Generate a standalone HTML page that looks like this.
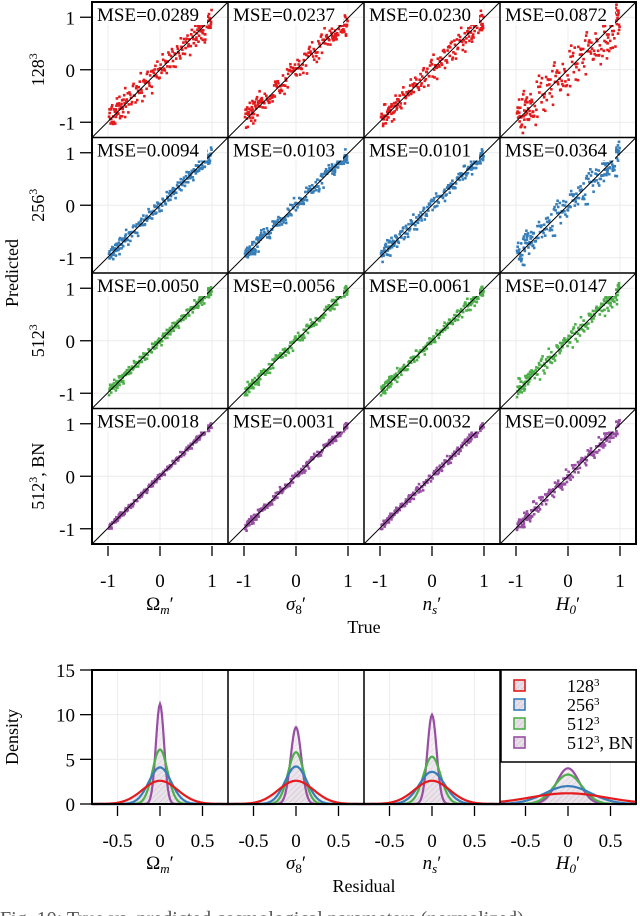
<!DOCTYPE html>
<html><head><meta charset="utf-8">
<style>
html,body{margin:0;padding:0;background:#fff;}
svg{display:block;font-family:"Liberation Serif",serif;}
</style></head>
<body>
<svg id="fig" width="640" height="916" viewBox="0 0 640 916" xmlns="http://www.w3.org/2000/svg"></svg>
<script>
// ---- data ----
const rowLabels = ["128", "256", "512", "512"];
const rowSuffix = ["", "", "", ", BN"];
const colLabels = ["Ω", "σ", "n", "H"];
const colSubs = ["m", "8", "s", "0"];
const mseRow0 = [0.0289, 0.0237, 0.0230, 0.0872];
const mseRow1 = [0.0094, 0.0103, 0.0101, 0.0364];
const mseRow2 = [0.0050, 0.0056, 0.0061, 0.0147];
const mseRow3 = [0.0018, 0.0031, 0.0032, 0.0092];
const trueVals = [-0.98,-0.95,-0.93,-0.9,-0.88,-0.86,-0.84,-0.82,-0.8,-0.78,-0.76,-0.74,-0.72,-0.7,-0.67,-0.65,-0.62,-0.6,-0.57,-0.55,-0.52,-0.5,-0.47,-0.45,-0.42,-0.4,-0.37,-0.35,-0.32,-0.3,-0.27,-0.25,-0.22,-0.2,-0.17,-0.15,-0.12,-0.1,-0.07,-0.05,-0.02,0.0,0.03,0.05,0.08,0.1,0.13,0.15,0.18,0.2,0.23,0.25,0.28,0.3,0.33,0.35,0.38,0.4,0.43,0.45,0.48,0.5,0.53,0.55,0.58,0.6,0.63,0.65,0.68,0.7,0.72,0.74,0.76,0.78,0.8,0.82,0.84,0.86,0.88,0.9,0.92,0.94,0.96,0.98,-0.97,-0.91,-0.85,-0.79,-0.73,-0.68,0.69,0.75,0.81,0.87,0.93,0.97,-0.94,-0.83,0.85,0.95];
const noiseVals = [0.3,-0.8,1.2,-0.2,0.6,-1.4,0.1,0.9,-0.5,1.6,-1.1,0.4,-0.3,0.7,-1.8,0.2,1.0,-0.6,0.5,-0.9,1.3,-0.1,-1.2,0.8,0.0,-0.4,2.0,-0.7,0.6,-1.5,0.3,1.1,-0.2,-0.8,0.9,-2.1,0.4,0.7,-0.3,1.4,-1.0,0.2,-0.6,1.7,-0.4,0.5,-1.3,0.1,0.8,-0.9,1.2,-0.5,0.3,-1.6,0.9,0.0,-0.7,1.5,-0.2,0.6,-1.1,0.4,1.0,-0.3,-1.9,0.7,0.2,-0.8,1.3,-0.4,0.5,-1.2,0.8,-0.1,1.1,-0.6,0.3,-1.0,0.6,-0.3,0.9,-0.7,0.2,-0.5,1.2,-0.9,0.4,0.8,-1.3,0.1,-0.6,0.5,-0.2,-1.1,0.3,-0.8,1.0,-0.4,0.7,-0.5];
const peaksCol0 = [2.6, 4.1, 6.1, 11.2];
const peaksCol1 = [2.6, 4.2, 5.8, 8.6];
const peaksCol2 = [2.6, 3.6, 5.3, 10.0];
const peaksCol3 = [1.2, 2.0, 3.3, 4.0];
const densTicks = [0, 5, 10, 15];
const resTicks = [-0.5, 0, 0.5];
const predTicks = [-1, 0, 1];
const colors = ["#e41a1c", "#377eb8", "#4daf4a", "#984ea3"];

const NS = "http://www.w3.org/2000/svg";
const svg = document.getElementById("fig");
function el(tag, attrs, parent, text) {
  const e = document.createElementNS(NS, tag);
  for (const k in attrs) e.setAttribute(k, attrs[k]);
  if (text !== undefined) e.textContent = text;
  (parent || svg).appendChild(e);
  return e;
}
const defs = el("defs", {});
const pat = el("pattern", {id: "hatch", width: 4, height: 4, patternUnits: "userSpaceOnUse", patternTransform: "rotate(45)"}, defs);
el("rect", {width: 4, height: 4, fill: "#e8e0e8"}, pat);
el("line", {x1: 0, y1: 0, x2: 0, y2: 4, stroke: "#c8b8c8", "stroke-width": 1}, pat);

const colX = [92, 228, 364, 500];
const PW = 136;
const rowY = [2, 137.5, 273, 408.5];
const PH = 135.5;
const mseRows = [mseRow0, mseRow1, mseRow2, mseRow3];

function xs(c, v) { return colX[c] + PW / 2 + v * 52; }
function ys(r, v) { return rowY[r] + PH / 2 - v * 52.5; }

for (let r = 0; r < 4; r++) {
  for (let c = 0; c < 4; c++) {
    const g = el("g", {});
    
    
    const x0 = colX[c], y0 = rowY[r];
    predTicks.forEach(t => {
      el("line", {x1: xs(c, t), x2: xs(c, t), y1: y0, y2: y0 + PH, stroke: "#ececec", "stroke-width": 1}, g);
      el("line", {x1: x0, x2: x0 + PW, y1: ys(r, t), y2: ys(r, t), stroke: "#ececec", "stroke-width": 1}, g);
    });
    const sd = Math.sqrt(mseRows[r][c]) * 0.85;
    const pts = el("g", {fill: colors[r]}, g);
    
    
    for (let rep = 0; rep < 2; rep++) {
      for (let i = 0; i < trueVals.length; i++) {
        const tv = Math.max(-1, Math.min(1, trueVals[i] + (rep ? 0.012 : 0)));
        const n = noiseVals[(i * (c + 1) + rep * 37 + r * 11) % noiseVals.length];
        let pv = tv * (1 - sd * 0.3) + n * sd;
        pv = Math.max(-1.28, Math.min(1.28, pv));
        el("rect", {x: xs(c, tv) - 1.3, y: ys(r, pv) - 1.3, width: 2.6, height: 2.6}, pts);
      }
    }
    el("line", {x1: x0, y1: y0 + PH, x2: x0 + PW, y2: y0, stroke: "#000", "stroke-width": 1}, g);
    el("rect", {x: x0 + 3, y: y0 + 2, width: 112, height: 21, fill: "#fff"}, g);
    const mt = el("text", {x: x0 + 5, y: y0 + 19, "font-size": 19}, g, "MSE=" + mseRows[r][c].toFixed(4));
    
    
    el("rect", {x: x0, y: y0, width: PW, height: PH, fill: "none", stroke: "#000", "stroke-width": 1.3}, g);
  }
  predTicks.forEach(t => {
    el("line", {x1: 80, x2: 92, y1: ys(r, t), y2: ys(r, t), stroke: "#000", "stroke-width": 1.3});
    el("text", {x: 75, y: ys(r, t) + 7, "font-size": 19, "text-anchor": "end"}, svg, String(t));
  });
  const rl = el("text", {transform: `translate(44,${rowY[r] + PH / 2}) rotate(-90)`, "font-size": 18, "text-anchor": "middle"});
  
  
  el("tspan", {}, rl, rowLabels[r]);
  el("tspan", {dy: -7, "font-size": 12}, rl, "3");
  if (rowSuffix[r]) el("tspan", {dy: 7}, rl, rowSuffix[r]);
}
el("rect", {x: 92, y: 2, width: 544, height: 542, fill: "none", stroke: "#000", "stroke-width": 2});
const pl = el("text", {transform: "translate(18,273) rotate(-90)", "font-size": 18, "text-anchor": "middle"}, svg, "Predicted");



function paramLabel(x, y, c) {
  const t = el("text", {x: x, y: y, "font-size": 19, "text-anchor": "middle"});
  
  
  el("tspan", {"font-style": c === 0 ? "normal" : "italic"}, t, colLabels[c]);
  el("tspan", {dy: 4, "font-size": 13, "font-style": c === 1 ? "normal" : "italic"}, t, colSubs[c]);
  el("tspan", {dy: -4}, t, "′");
}
for (let c = 0; c < 4; c++) {
  predTicks.forEach(t => {
    el("line", {x1: xs(c, t), x2: xs(c, t), y1: 546, y2: 556, stroke: "#000", "stroke-width": 1.3});
    el("text", {x: xs(c, t), y: 587, "font-size": 19, "text-anchor": "middle"}, svg, String(t));
  });
  paramLabel(colX[c] + PW / 2, 610, c);
}
const tl = el("text", {x: 364, y: 633, "font-size": 18, "text-anchor": "middle"}, svg, "True");



// ---- density panels ----
const BY0 = 670, BY1 = 804;
const peaks = [peaksCol0, peaksCol1, peaksCol2, peaksCol3];
function dx(c, v) { return colX[c] + PW / 2 + v * 85; }
function dy(v) { return BY1 - v * (BY1 - BY0) / 15; }
function densPath(c, pk) {
  const sig = 1.35 / (pk * 2.5066);
  let d = "";
  for (let i = 0; i <= 136; i++) {
    const v = -0.8 + i * 1.6 / 136;
    const z = v / sig;
    const den = pk * Math.exp(-z * z / 2);
    d += (i ? "L" : "M") + dx(c, v).toFixed(1) + "," + dy(den).toFixed(1);
  }
  return d;
}
for (let c = 0; c < 4; c++) {
  const g = el("g", {});
  
  
  resTicks.forEach(t => el("line", {x1: dx(c, t), x2: dx(c, t), y1: BY0, y2: BY1, stroke: "#ececec"}, g));
  densTicks.forEach(t => el("line", {x1: colX[c], x2: colX[c] + PW, y1: dy(t), y2: dy(t), stroke: "#ececec"}, g));
  for (let s = 0; s < 4; s++) {
    el("path", {d: densPath(c, peaks[c][s]) + "Z", fill: "url(#hatch)", "fill-opacity": 0.45, stroke: "none"}, g);
  }
  for (let s = 3; s >= 0; s--) {
    const p = el("path", {d: densPath(c, peaks[c][s]), fill: "none", stroke: colors[s], "stroke-width": 2.2}, g);
    
    
  }
  el("rect", {x: colX[c], y: BY0, width: PW, height: BY1 - BY0, fill: "none", stroke: "#000", "stroke-width": 1.3}, g);
  resTicks.forEach(t => {
    el("line", {x1: dx(c, t), x2: dx(c, t), y1: 806, y2: 816, stroke: "#000", "stroke-width": 1.3});
    el("text", {x: dx(c, t), y: 847, "font-size": 19, "text-anchor": "middle"}, svg, String(t));
  });
  paramLabel(colX[c] + PW / 2, 869, c);
}
el("rect", {x: 92, y: BY0, width: 544, height: BY1 - BY0, fill: "none", stroke: "#000", "stroke-width": 2});
densTicks.forEach(t => {
  el("line", {x1: 80, x2: 92, y1: dy(t), y2: dy(t), stroke: "#000", "stroke-width": 1.3});
  el("text", {x: 75, y: dy(t) + 7, "font-size": 19, "text-anchor": "end"}, svg, String(t));
});
const dl = el("text", {transform: "translate(18,737) rotate(-90)", "font-size": 18, "text-anchor": "middle"}, svg, "Density");


const rsl = el("text", {x: 364, y: 892, "font-size": 18, "text-anchor": "middle"}, svg, "Residual");



// legend
const lg = el("g", {});


el("rect", {x: 501, y: 670, width: 135, height: 92, fill: "#fff", stroke: "#000", "stroke-width": 1.5}, lg);
for (let s = 0; s < 4; s++) {
  const y = 686 + s * 19;
  const le = el("g", {}, lg);
  
  
  el("rect", {x: 514, y: y - 6, width: 11, height: 11, fill: "url(#hatch)", stroke: colors[s], "stroke-width": 1.6}, le);
  const t = el("text", {x: 567, y: y + 6, "font-size": 18}, le);
  el("tspan", {}, t, rowLabels[s]);
  el("tspan", {dy: -6, "font-size": 11}, t, "3");
  el("tspan", {dy: 6}, t, rowSuffix[s]);
}
const cap = el("text", {x: 0, y: 925, "font-size": 20, fill: "#555"}, svg, "Fig. 10: True vs. predicted cosmological parameters (normalized)");


</script>
</body></html>
